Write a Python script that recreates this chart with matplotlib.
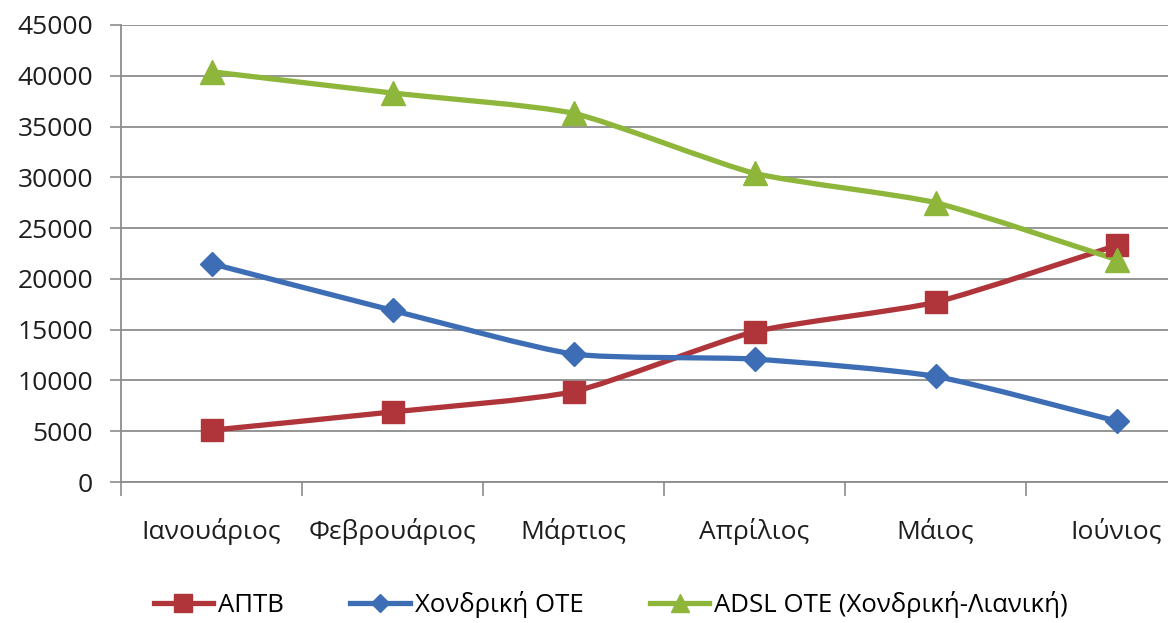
import numpy as np
from matplotlib import pyplot as plt
from matplotlib.path import Path
from matplotlib.patches import PathPatch
from matplotlib.lines import Line2D

months = ['Ιανουάριος', 'Φεβρουάριος', 'Μάρτιος', 'Απρίλιος', 'Μάιος', 'Ιούνιος']
aptb = [5100, 6900, 8900, 14800, 17700, 23300]
xondriki_ote = [21500, 16900, 12600, 12100, 10400, 6000]
adsl_ote = [40400, 38300, 36300, 30400, 27500, 21900]

series = [
    ('ΑΠΤΒ', aptb, '#AF353A', 's', 16),
    ('Χονδρική ΟΤΕ', xondriki_ote, '#3D6DB5', 'D', 12),
    ('ADSL OTE (Χονδρική-Λιανική)', adsl_ote, '#8DB63A', '^', 17),
]

plt.rcParams['font.family'] = ['Open Sans', 'DejaVu Sans']


def smooth_path(x, y, tension=0.1):
    # cubic bezier through the points, smoothed line
    x = np.asarray(x, float)
    y = np.asarray(y, float)
    verts = [(x[0], y[0])]
    codes = [Path.MOVETO]
    n = len(x)
    for i in range(n - 1):
        p0 = np.array([x[max(i - 1, 0)], y[max(i - 1, 0)]])
        p1 = np.array([x[i], y[i]])
        p2 = np.array([x[i + 1], y[i + 1]])
        p3 = np.array([x[min(i + 2, n - 1)], y[min(i + 2, n - 1)]])
        c1 = p1 + (p2 - p0) * tension
        c2 = p2 - (p3 - p1) * tension
        verts += [tuple(c1), tuple(c2), tuple(p2)]
        codes += [Path.CURVE4] * 3
    return Path(verts, codes)


fig = plt.figure(figsize=(11.68, 6.23), dpi=100)
ax = fig.add_axes([121 / 1168, 1 - 482 / 623, 1 - 121 / 1168, (482 - 25) / 623])

x = np.arange(len(months)) + 0.5
for name, vals, color, marker, ms in series:
    ax.add_patch(PathPatch(smooth_path(x, vals), fill=False, edgecolor=color,
                           lw=3.8, capstyle='round', joinstyle='round', zorder=3))
    ax.plot(x, vals, ls='none', marker=marker, ms=ms, color=color, zorder=4)

ax.set_xlim(0, (1168 - 121) / 181)
ax.set_ylim(0, 45000)
ax.set_yticks(np.arange(0, 45001, 5000))
ax.yaxis.grid(True, color='#8c8c8c', lw=1.3)
ax.set_axisbelow(True)

ax.set_xticks(np.arange(0, 6), minor=False)
ax.set_xticklabels([])
ax.set_xticks(x, minor=True)
ax.set_xticklabels(months, minor=True)
ax.tick_params(axis='x', which='major', length=10, width=1.2, color='#8c8c8c')
ax.tick_params(axis='x', which='minor', length=0, pad=26, labelsize=19, labelcolor='#1e1e1e')
ax.tick_params(axis='y', length=8, width=1.2, color='#8c8c8c', labelsize=19,
               labelcolor='#1e1e1e', pad=12)

for s in ['top', 'right']:
    ax.spines[s].set_visible(False)
for s in ['left', 'bottom']:
    ax.spines[s].set_color('#8c8c8c')
    ax.spines[s].set_linewidth(1.3)

handles = [Line2D([], [], color=c, lw=3.8, marker=m, ms=ms * 0.8) for _, _, c, m, ms in series]
fig.legend(handles, [s[0] for s in series], loc='center', bbox_to_anchor=(0.523, 0.03),
           ncol=3, frameon=False, fontsize=18.5, handlelength=2.3, columnspacing=2.6,
           handletextpad=0.2)

fig.savefig('out.png', dpi=100, facecolor='white')
